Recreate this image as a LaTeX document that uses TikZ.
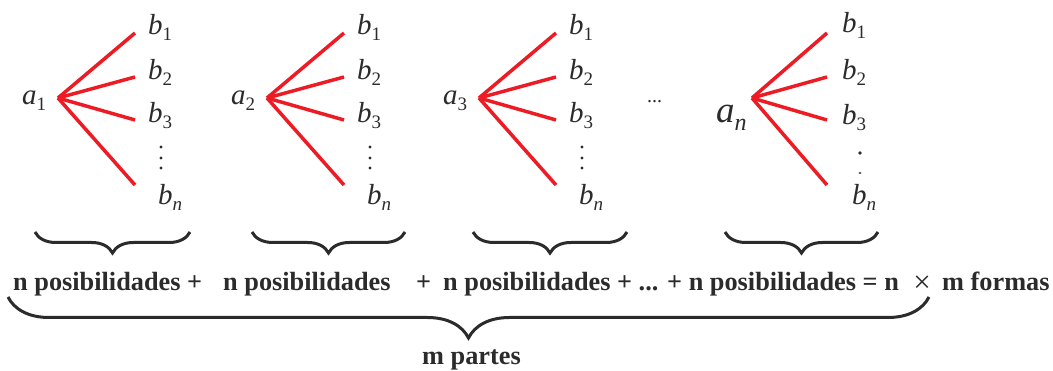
\documentclass[tikz,border=0pt]{standalone}
\usepackage{fontspec}
\setmainfont{Liberation Serif}
\usetikzlibrary{calc,positioning,decorations.pathreplacing}
\definecolor{TreeRed}{HTML}{ED1C24}
\definecolor{InkGrey}{HTML}{2B2B2B}
\newcommand{\subl}[2]{\textit{#1}\raisebox{-6pt}{\fontsize{19pt}{19pt}\selectfont #2}}

\begin{document}
\begin{tikzpicture}[x=1pt,y=1pt,color=InkGrey,
    lf/.style={font=\fontsize{29pt}{31pt}\selectfont,inner sep=0pt,anchor=base west},
    tx/.style={font=\fontsize{26.3pt}{28pt}\selectfont\bfseries,inner sep=0pt,anchor=base west},
    rl/.style={line width=3.5pt,color=TreeRed},
    br/.style={decorate,decoration={brace,amplitude=21pt},line width=3pt}]
  \useasboundingbox (0,0) rectangle (1053,-371);
  % three full trees
  \foreach \i/\x in {1/58,2/267,3/479}{
    \coordinate (r\i) at (\x,-98);
    \node[lf] (a\i) at (\x-36,-105) {\subl{a}{\i}};
    \foreach \j/\y in {1/-33,2/-77,3/-120,4/-185}{\coordinate (e\i\j) at (\x+77,\y);}
    \foreach \j in {1,...,4}{\draw[rl] (r\i) -- (e\i\j);}
    \node[lf] (b\i1) at (\x+90,-35) {\subl{b}{1}};
    \node[lf] (b\i2) at (\x+90,-80) {\subl{b}{2}};
    \node[lf] (b\i3) at (\x+90,-123) {\subl{b}{3}};
    \node[lf] (b\i4) at (\x+100,-205) {\subl{b}{\textit{n}}};
    \foreach \y in {-147,-158,-168}{\fill (\x+103,\y) circle (1.6);}
  }
  \node[lf,font=\fontsize{20pt}{20pt}\selectfont] (dts) at (647,-103) {...};
  % last tree
  \coordinate (r4) at (752,-98);
  \node[lf,font=\fontsize{37pt}{39pt}\selectfont] (a4) at (716,-123) {\textit{a}\raisebox{-8pt}{\fontsize{24pt}{24pt}\selectfont\itshape n}};
  \foreach \j/\y in {1/-33,2/-77,3/-120,4/-185}{\coordinate (e4\j) at (827,\y);}
  \foreach \j in {1,...,4}{\draw[rl] (r4) -- (e4\j);}
  \node[lf] (b41) at (842,-33) {\subl{b}{1}};
  \node[lf] (b42) at (842,-80) {\subl{b}{2}};
  \node[lf] (b43) at (842,-125) {\subl{b}{3}};
  \node[lf] (b44) at (852,-205) {\subl{b}{\textit{n}}};
  \fill (860,-153) circle (1.8);
  \fill (860,-173) ellipse (1.6 and 0.9);
  % small braces
  \foreach \l/\r [count=\k] in {35/190,252/405,473/627,725/878}{
    \coordinate (kl\k) at (\l,-232);
    \coordinate (kr\k) at (\r,-232);
    \draw[br] (kr\k) -- (kl\k);
  }
  % sum line
  \node[tx] (t1) at (13,-291) {n posibilidades +};
  \node[tx] (t2) at (223,-291) {n posibilidades};
  \node[tx] (t3) at (416,-291) {+};
  \node[tx] (t4) at (443,-291) {n posibilidades + ... + n posibilidades = n};
  \node[inner sep=0pt,font=\fontsize{31pt}{31pt}\selectfont] (tm) at (922,-284) {×};
  \node[tx] (t5) at (942,-291) {m formas};
  % big brace
  \coordinate (gl) at (8,-297);
  \coordinate (gr) at (929,-297);
  \draw[br,decoration={brace,amplitude=41pt}] (gr) -- (gl);
  \node[tx] (mp) at (422,-365) {m partes};
\end{tikzpicture}
\end{document}
